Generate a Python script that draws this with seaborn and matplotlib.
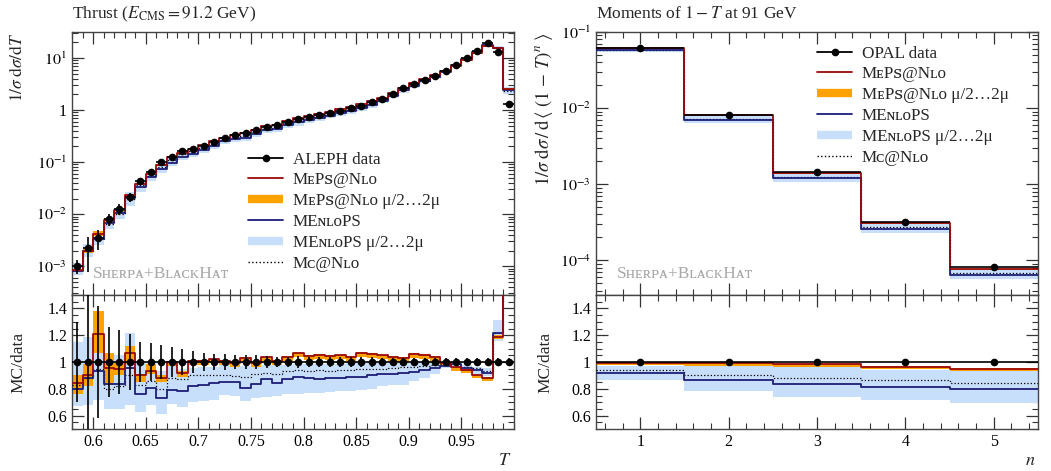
import numpy as np
import matplotlib
matplotlib.use('Agg')
import matplotlib.pyplot as plt
import seaborn as sns
from matplotlib.lines import Line2D
from matplotlib.ticker import FixedLocator, MultipleLocator, LogLocator, FuncFormatter, NullFormatter

# ---- Thrust (ALEPH, 91.2 GeV): bins 0.58 ... 1.00, width 0.01
thrust_edges = np.linspace(0.58, 1.0, 43)
aleph_data = [1.0e-3, 2.2e-3, 3.5e-3, 8.0e-3, 0.0125, 0.0215, 0.043, 0.064, 0.100, 0.123,
              0.162, 0.178, 0.208, 0.245, 0.293, 0.330, 0.356, 0.420, 0.480, 0.520,
              0.600, 0.660, 0.730, 0.810, 0.890, 0.980, 1.09, 1.22, 1.40, 1.65,
              2.05, 2.61, 3.12, 3.77, 4.50, 5.60, 7.30, 9.90, 13.8, 19.2,
              12.9, 1.30]
aleph_relerr = [0.30, 0.65, 0.42, 0.26, 0.24, 0.21, 0.15, 0.14, 0.125, 0.115,
                0.095, 0.085, 0.07, 0.06, 0.056, 0.05, 0.05, 0.05, 0.045, 0.04,
                0.04, 0.045, 0.04, 0.04, 0.038, 0.036, 0.035, 0.035, 0.034, 0.033,
                0.032, 0.03, 0.03, 0.03, 0.03, 0.028, 0.028, 0.028, 0.028, 0.03,
                0.03, 0.03]
# MC / data ratios
meps_ratio = [0.84, 0.90, 1.21, 0.955, 0.945, 1.065, 0.90, 0.935, 0.88, 1.00,
              0.92, 1.01, 1.01, 1.02, 1.01, 0.99, 1.03, 0.995, 1.035, 1.01,
              1.04, 1.065, 1.045, 1.055, 1.045, 1.05, 1.04, 1.07, 1.062, 1.05,
              1.04, 1.03, 1.06, 1.055, 1.04, 0.995, 0.96, 0.94, 0.90, 0.88,
              1.19, 1.95]
meps_lo = [0.76, 0.82, 1.07, 0.83, 0.90, 0.985, 0.85, 0.91, 0.85, 0.97,
           0.89, 0.98, 0.98, 0.99, 0.98, 0.96, 1.00, 0.965, 1.005, 0.98,
           1.01, 1.035, 1.015, 1.025, 1.015, 1.02, 1.01, 1.04, 1.032, 1.02,
           1.01, 1.00, 1.03, 1.025, 1.01, 0.97, 0.935, 0.92, 0.88, 0.86,
           1.17, 1.85]
meps_hi = [0.90, 0.985, 1.38, 1.07, 1.00, 1.12, 0.91, 0.985, 0.90, 1.005,
           0.93, 1.015, 1.015, 1.025, 1.015, 0.995, 1.035, 1.0, 1.04, 1.015,
           1.045, 1.07, 1.05, 1.06, 1.05, 1.055, 1.045, 1.075, 1.067, 1.055,
           1.045, 1.035, 1.065, 1.06, 1.045, 1.0, 0.965, 0.945, 0.905, 0.885,
           1.20, 2.0]
menlops_ratio = [0.80, 0.88, 0.935, 0.835, 0.835, 0.955, 0.76, 0.805, 0.73, 0.79,
                 0.78, 0.82, 0.83, 0.845, 0.85, 0.85, 0.805, 0.835, 0.87, 0.845,
                 0.87, 0.885, 0.88, 0.875, 0.878, 0.88, 0.885, 0.89, 0.90, 0.91,
                 0.913, 0.92, 0.928, 0.94, 0.954, 0.97, 0.985, 0.955, 0.94, 0.92,
                 1.22, 1.85]
menlops_lo = [0.67, 0.68, 0.72, 0.65, 0.65, 0.68, 0.63, 0.68, 0.61, 0.69,
              0.665, 0.70, 0.71, 0.72, 0.755, 0.75, 0.71, 0.73, 0.74, 0.745,
              0.76, 0.76, 0.765, 0.77, 0.775, 0.78, 0.785, 0.79, 0.80, 0.82,
              0.826, 0.83, 0.856, 0.88, 0.91, 0.954, 0.97, 0.933, 0.91, 0.895,
              1.16, 1.6]
menlops_hi = [1.15, 1.19, 1.08, 1.05, 1.05, 1.22, 1.00, 0.985, 0.935, 0.97,
              0.95, 0.955, 0.96, 0.965, 0.975, 0.975, 0.97, 0.975, 0.98, 0.975,
              0.98, 0.985, 0.985, 0.985, 0.985, 0.985, 0.99, 0.99, 0.99, 0.99,
              0.99, 0.99, 0.995, 0.995, 1.0, 1.0, 1.005, 0.975, 0.965, 0.955,
              1.31, 2.1]
mcnlo_ratio = [0.83, 0.88, 0.95, 0.80, 0.82, 0.90, 0.83, 0.86, 0.80, 0.88,
               0.87, 0.90, 0.90, 0.905, 0.90, 0.895, 0.89, 0.91, 0.92, 0.91,
               0.93, 0.94, 0.93, 0.94, 0.935, 0.94, 0.94, 0.945, 0.95, 0.95,
               0.955, 0.96, 0.96, 0.97, 0.975, 0.985, 0.985, 0.96, 0.955, 0.93,
               1.22, 1.8]

# ---- Moments of 1-T (OPAL, 91 GeV)
moment_n = [1, 2, 3, 4, 5]
opal_data = [0.0624, 0.0081, 0.00143, 3.2e-4, 8.1e-5]
opal_relerr = [0.006, 0.006, 0.006, 0.006, 0.006]
mom_meps = [0.995, 0.99, 0.982, 0.964, 0.95]
mom_meps_lo = [0.975, 0.97, 0.96, 0.945, 0.93]
mom_meps_hi = [0.998, 0.993, 0.985, 0.968, 0.953]
mom_menlops = [0.918, 0.867, 0.836, 0.815, 0.797]
mom_menlops_lo = [0.867, 0.785, 0.738, 0.713, 0.692]
mom_menlops_hi = [0.97, 0.975, 0.964, 0.944, 0.93]
mom_mcnlo = [0.938, 0.90, 0.88, 0.862, 0.846]

RED = '#9b0a0a'
ORANGE = '#ffa200'
NAVY = '#1e1e78'
LIGHTBLUE = '#c8dffc'
GREY = '#a8a8a8'

sns.set_style('ticks')
plt.rcParams['font.family'] = ['Liberation Serif', 'DejaVu Serif', 'DejaVu Sans']
plt.rcParams['mathtext.fontset'] = 'stix'
plt.rcParams['axes.edgecolor'] = '#444444'
plt.rcParams['axes.linewidth'] = 1.0


def step_line(ax, edges, vals, **kw):
    vals = np.asarray(vals, dtype=float)
    sns.lineplot(x=edges, y=np.append(vals, vals[-1]), drawstyle='steps-post',
                 estimator=None, sort=False, legend=False, ax=ax, **kw)


def band(ax, edges, lo, hi, **kw):
    lo = np.asarray(lo, dtype=float)
    hi = np.asarray(hi, dtype=float)
    ax.fill_between(edges, np.append(lo, lo[-1]), np.append(hi, hi[-1]),
                    step='post', lw=0, **kw)


def draw_set(ax, edges, scale, d, r_meps, lo_meps, hi_meps, r_men, lo_men, hi_men, r_mc, relerr):
    s = np.asarray(scale, dtype=float)
    band(ax, edges, s * np.asarray(lo_men), s * np.asarray(hi_men), color=LIGHTBLUE, zorder=1)
    band(ax, edges, s * np.asarray(lo_meps), s * np.asarray(hi_meps), color=ORANGE, zorder=2)
    step_line(ax, edges, s * np.asarray(r_mc), color='k', lw=0.9, linestyle=':', zorder=3)
    step_line(ax, edges, s * np.asarray(r_men), color=NAVY, lw=1.3, zorder=3)
    step_line(ax, edges, s * np.asarray(r_meps), color=RED, lw=1.3, zorder=4)
    centers = 0.5 * (edges[1:] + edges[:-1])
    half = 0.5 * np.diff(edges)
    d = np.asarray(d, dtype=float)
    ax.errorbar(centers, d, yerr=d * np.asarray(relerr), xerr=half, fmt='o', color='k',
                ms=4.5, elinewidth=1.2, capsize=0, zorder=5)


def log_fmt(v, pos):
    e = int(round(np.log10(v)))
    return '1' if e == 0 else r'$10^{%d}$' % e


def style_axis(ax):
    ax.tick_params(which='both', direction='in', top=True, right=True,
                   colors='#333333', labelcolor='k', labelsize=11.5)
    ax.tick_params(which='major', length=8.5, width=0.9)
    ax.tick_params(which='minor', length=4.2, width=0.8)


def small_caps_note(ax):
    ax.text(0.0475, 0.066, 'Sʜᴇʀᴘᴀ+BʟᴀᴄᴋHᴀᴛ', transform=ax.transAxes, fontsize=12.5,
            color=GREY, va='baseline', ha='left', zorder=6)


fig = plt.figure(figsize=(10.51, 4.71), dpi=100)
W, H = 1051.0, 471.0
def box(x0, y0, x1, y1):
    return [x0 / W, 1 - y1 / H, (x1 - x0) / W, (y1 - y0) / H]

axL = fig.add_axes(box(72, 32, 514, 295))
axLr = fig.add_axes(box(72, 295, 514, 429))
axR = fig.add_axes(box(596, 32, 1038, 295))
axRr = fig.add_axes(box(596, 295, 1038, 429))

# ---- left: thrust
ones42 = np.ones(len(aleph_data))
draw_set(axL, thrust_edges, aleph_data, aleph_data, meps_ratio, meps_lo, meps_hi,
         menlops_ratio, menlops_lo, menlops_hi, mcnlo_ratio, aleph_relerr)
draw_set(axLr, thrust_edges, ones42, ones42, meps_ratio, meps_lo, meps_hi,
         menlops_ratio, menlops_lo, menlops_hi, mcnlo_ratio, aleph_relerr)

# ---- right: moments
medges = np.arange(0.5, 6.0, 1.0)
ones5 = np.ones(len(opal_data))
draw_set(axR, medges, opal_data, opal_data, mom_meps, mom_meps_lo, mom_meps_hi,
         mom_menlops, mom_menlops_lo, mom_menlops_hi, mom_mcnlo, opal_relerr)
draw_set(axRr, medges, ones5, ones5, mom_meps, mom_meps_lo, mom_meps_hi,
         mom_menlops, mom_menlops_lo, mom_menlops_hi, mom_mcnlo, opal_relerr)

for ax in (axL, axLr):
    ax.set_xlim(0.58, 1.0)
    ax.xaxis.set_major_locator(FixedLocator([0.6, 0.65, 0.7, 0.75, 0.8, 0.85, 0.9, 0.95]))
    ax.xaxis.set_minor_locator(MultipleLocator(0.01))
for ax in (axR, axRr):
    ax.set_xlim(0.5, 5.5)
    ax.xaxis.set_major_locator(FixedLocator([1, 2, 3, 4, 5]))
    ax.xaxis.set_minor_locator(MultipleLocator(0.2))

for ax, lims in ((axL, (2.8e-4, 31.6)), (axR, (3.5e-5, 0.1))):
    ax.set_yscale('log')
    ax.set_ylim(*lims)
    ax.yaxis.set_major_locator(LogLocator(base=10, numticks=20))
    ax.yaxis.set_minor_locator(LogLocator(base=10, subs=np.arange(2, 10), numticks=20))
    ax.yaxis.set_major_formatter(FuncFormatter(log_fmt))
    ax.yaxis.set_minor_formatter(NullFormatter())
    ax.tick_params(labelbottom=False)
    small_caps_note(ax)

for ax in (axLr, axRr):
    ax.set_ylim(0.5, 1.5)
    ax.yaxis.set_major_locator(FixedLocator([0.6, 0.8, 1.0, 1.2, 1.4]))
    ax.yaxis.set_minor_locator(MultipleLocator(0.05))
    ax.yaxis.set_major_formatter(FuncFormatter(lambda v, p: '%g' % round(v, 2)))
    ax.xaxis.set_major_formatter(FuncFormatter(lambda v, p: '%g' % round(v, 2)))
    ax.set_ylabel('MC/data', fontsize=12.5)
axLr.yaxis.set_label_coords(-0.104, 0.5)
axRr.yaxis.set_label_coords(-0.097, 0.5)

for ax in (axL, axLr, axR, axRr):
    style_axis(ax)

axL.set_ylabel(r'$1/\sigma\;\mathrm{d}\sigma/\mathrm{d}T$', fontsize=12.5, loc='top')
axL.yaxis.set_label_coords(-0.104, 1.0)
axR.set_ylabel(r'$1/\sigma\;\mathrm{d}\sigma\,/\,\mathrm{d}\,\langle\;(1\,-\,T)^{n}\;\rangle$',
               fontsize=13.5, loc='top')
axR.yaxis.set_label_coords(-0.092, 1.0)
axLr.set_xlabel('$T$', fontsize=13, loc='right')
axLr.xaxis.set_label_coords(0.995, -0.17)
axRr.set_xlabel('$n$', fontsize=13, loc='right')
axRr.xaxis.set_label_coords(0.995, -0.17)

fig.text(72 / W, 1 - 18 / H, r'Thrust ($E_{\mathrm{CMS}} = 91.2$ GeV)', fontsize=12.5,
         ha='left', va='baseline')
fig.text(596 / W, 1 - 18 / H, r'Moments of $1 - T$ at 91 GeV', fontsize=12.5,
         ha='left', va='baseline')

def legend_handles():
    return [Line2D([], [], color='k', marker='o', ms=4.5, lw=1.3),
            Line2D([], [], color=RED, lw=1.3),
            Line2D([], [], color=ORANGE, lw=6, solid_capstyle='butt'),
            Line2D([], [], color=NAVY, lw=1.3),
            Line2D([], [], color=LIGHTBLUE, lw=6, solid_capstyle='butt'),
            Line2D([], [], color='k', lw=1.0, linestyle=':')]

tail = ['MᴇPꜱ@Nʟᴏ', 'MᴇPꜱ@Nʟᴏ μ/2…2μ', 'MEɴʟᴏPS', 'MEɴʟᴏPS μ/2…2μ', 'Mᴄ@Nʟᴏ']
for name, x0, ytop in (('ALEPH data', 248, 151.5), ('OPAL data', 817, 45.5)):
    fig.legend(legend_handles(), [name] + tail, loc='upper left',
               bbox_to_anchor=(x0 / W, 1 - ytop / H), bbox_transform=fig.transFigure,
               frameon=False, borderpad=0, borderaxespad=0, handlelength=2.05,
               handletextpad=0.58, labelspacing=0.29, fontsize=12.3)

fig.savefig('out.png', dpi=100)
